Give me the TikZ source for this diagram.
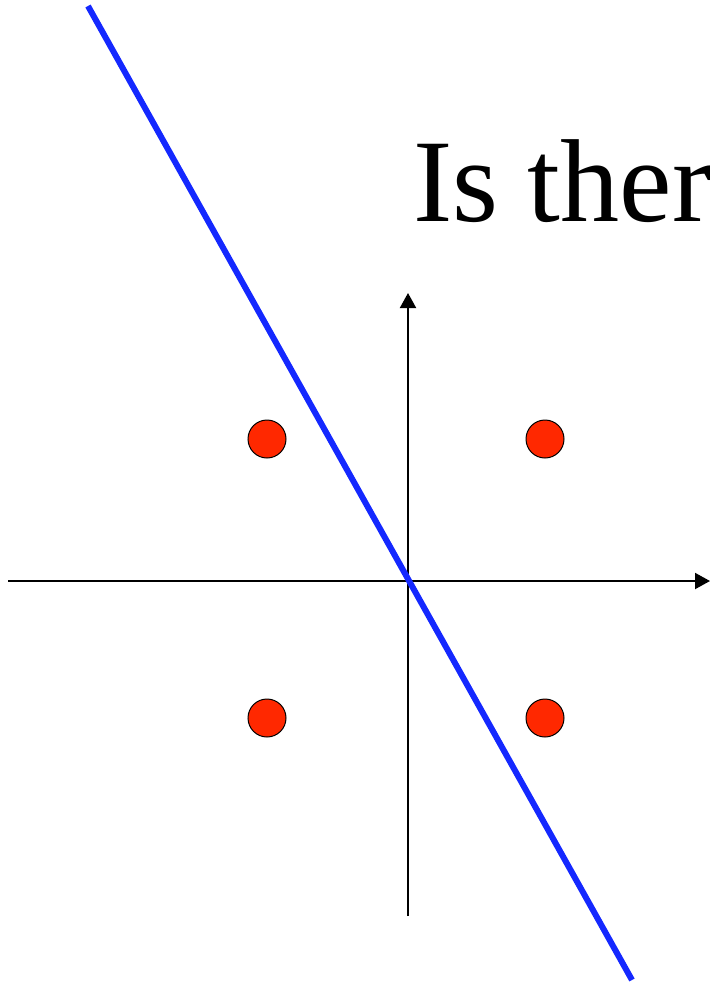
\documentclass[tikz,border=0pt]{standalone}
\usepackage{fontspec}
\setmainfont{Liberation Serif}
\usetikzlibrary{arrows.meta}

\begin{document}
\begin{tikzpicture}[
  x=1pt, y=-1pt,
  axis/.style  = {line width=2pt, -{Triangle[length=15pt, width=16pt]}},
  sep/.style   = {line width=6pt, draw={rgb,255:red,20;green,40;blue,255}},
  point/.style = {circle, draw, line width=1pt, fill={rgb,255:red,255;green,40;blue,0},
                  minimum size=38pt, inner sep=0pt},
  title/.style = {font=\fontsize{118}{130}\selectfont, inner sep=0pt, anchor=base west},
]
\useasboundingbox (0,0) rectangle (710,986);

%% Axes
\coordinate (xl) at (8,581);
\coordinate (xr) at (710,581);
\coordinate (yb) at (408,916);
\coordinate (yt) at (408,293);
\draw[axis] (xl) -- (xr);
\draw[axis] (yb) -- (yt);

%% Points
\node[point] (p1) at (267,439) {};
\node[point] (p2) at (545,439) {};
\node[point] (p3) at (267,718) {};
\node[point] (p4) at (545,718) {};

%% Separating line
\coordinate (s1) at (88,6);
\coordinate (s2) at (632,980);
\draw[sep] (s1) -- (s2);

%% Title
\node[title] (ttl) at (413,221) {Is ther};

\end{tikzpicture}
\end{document}
